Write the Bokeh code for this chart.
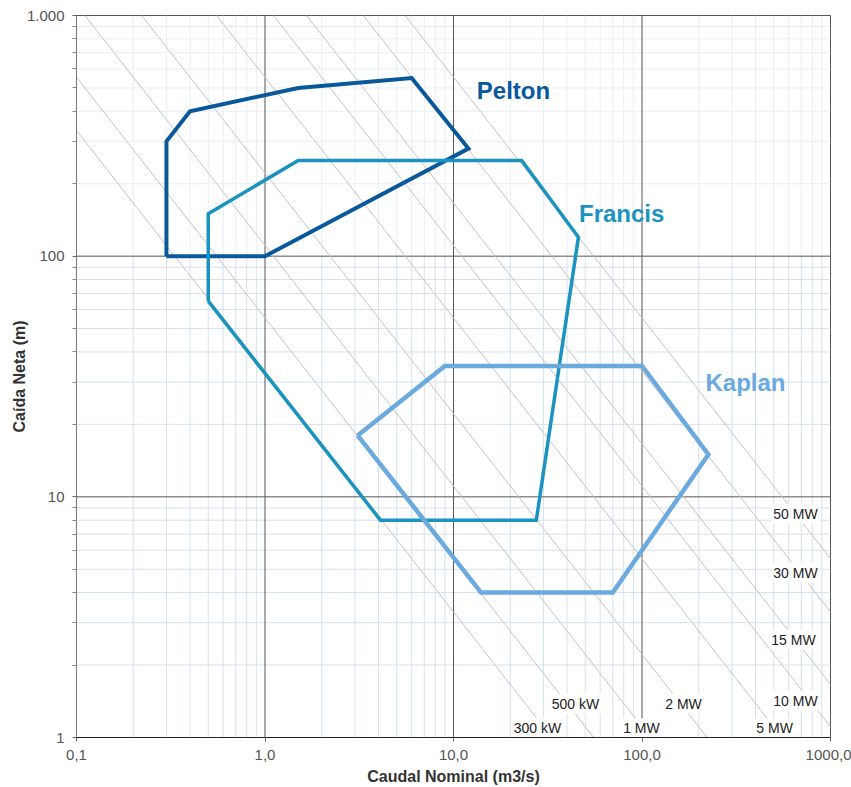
from bokeh.plotting import figure
from bokeh.models import FixedTicker, ColumnDataSource
from bokeh.core.properties import value
from bokeh.embed import file_html
from bokeh.resources import INLINE

# ---- data -------------------------------------------------------------
# Operating envelopes: nominal flow Q (m3/s) and net head H (m)
pelton_q = [0.3, 0.3, 0.4, 1.5, 6.0, 12.0, 1.0, 0.3]
pelton_h = [100, 300, 400, 500, 550, 280, 100, 100]

francis_q = [0.5, 0.5, 1.5, 23.0, 46.0, 27.5, 4.1, 0.5]
francis_h = [65, 150, 250, 250, 120, 8, 8, 65]

kaplan_q = [3.1, 9.0, 100.0, 225.0, 70.0, 14.0, 3.1]
kaplan_h = [18, 35, 35, 15, 4, 4, 18]

turbine_names = ["Pelton", "Francis", "Kaplan"]

# Iso-power lines (kW)
power_kw = [300, 500, 1000, 2000, 5000, 10000, 15000, 30000, 50000]
power_labels = ["300 kW", "500 kW", "1 MW", "2 MW", "5 MW",
                "10 MW", "15 MW", "30 MW", "50 MW"]

x_ticks = [0.1, 1, 10, 100, 1000]
x_tick_labels = ["0,1", "1,0", "10,0", "100,0", "1000,0"]
y_ticks = [1, 10, 100, 1000]
y_tick_labels = ["1", "10", "100", "1.000"]

# ---- layout / style ---------------------------------------------------
FONT = "Liberation Sans"
RHO_G_ETA = 9.81 * 0.92          # P[kW] = rho*g*eta * Q * H
Q_MIN, Q_MAX = 0.1, 1000
H_MIN, H_MAX = 1, 1000

TURBINE_COLORS = ["#08589b", "#1a93bf", "#6aaadf"]
TURBINE_WIDTHS = [4, 3.5, 4.5]
# where each turbine name sits (Q, H)
turbine_label_pos = [(20.8, 490), (78, 150), (354, 30)]
# where each power label sits (Q, H)
power_label_pos = [(27.9, 1.10), (44.4, 1.38), (99.3, 1.09), (166, 1.38),
                   (505, 1.09), (652, 1.42), (636, 2.55), (652, 4.84),
                   (652, 8.5)]

p = figure(width=851, height=787,
           x_axis_type="log", y_axis_type="log",
           x_range=(Q_MIN, Q_MAX), y_range=(H_MIN, H_MAX),
           output_backend="svg", toolbar_location=None,
           min_border_left=76, min_border_right=21,
           min_border_top=15, min_border_bottom=49,
           background_fill_color="white", border_fill_color="white")
p.outline_line_color = "#555555"
p.outline_line_width = 1
p.xgrid.grid_line_color = None
p.ygrid.grid_line_color = None

# ---- grid -------------------------------------------------------------
decades_q = [0.1, 1, 10, 100]
decades_h = [1, 10, 100]
minor_q = [m * d for d in decades_q for m in range(2, 10)]
minor_h = [m * d for d in decades_h for m in range(2, 10)]

# vertical minor lines: stronger below H=100, paler above
p.segment(x0=minor_q, y0=[H_MIN] * len(minor_q), x1=minor_q, y1=[100] * len(minor_q),
          line_color="#d5e1ef", line_width=1)
p.segment(x0=minor_q, y0=[100] * len(minor_q), x1=minor_q, y1=[H_MAX] * len(minor_q),
          line_color="#e8eef6", line_width=1)
# horizontal minor lines
low_h = [h for h in minor_h if h < 100]
high_h = [h for h in minor_h if h > 100]
p.segment(x0=[Q_MIN] * len(low_h), y0=low_h, x1=[Q_MAX] * len(low_h), y1=low_h,
          line_color="#d5e1ef", line_width=1)
p.segment(x0=[Q_MIN] * len(high_h), y0=high_h, x1=[Q_MAX] * len(high_h), y1=high_h,
          line_color="#e8eef6", line_width=1)

# major decade lines
major_q = [q for q in x_ticks if Q_MIN < q < Q_MAX]
major_h = [h for h in y_ticks if H_MIN < h < H_MAX]
p.segment(x0=major_q, y0=[H_MIN] * len(major_q), x1=major_q, y1=[H_MAX] * len(major_q),
          line_color="#555555", line_width=1)
p.segment(x0=[Q_MIN] * len(major_h), y0=major_h, x1=[Q_MAX] * len(major_h), y1=major_h,
          line_color="#555555", line_width=1)

# ---- iso-power lines ----------------------------------------------------
q_ends = [0.01, 1e4]
xs_pow = [q_ends for _ in power_kw]
ys_pow = [[pw / (RHO_G_ETA * q) for q in q_ends] for pw in power_kw]
p.multi_line(xs=xs_pow, ys=ys_pow, line_color="#c4c4c4", line_width=1)

# ---- turbine envelopes --------------------------------------------------
envelopes = [(pelton_q, pelton_h), (francis_q, francis_h), (kaplan_q, kaplan_h)]
for (qs, hs), col, lw in zip(envelopes, TURBINE_COLORS, TURBINE_WIDTHS):
    p.line(qs, hs, line_color=col, line_width=lw, line_join="miter")

# ---- labels -------------------------------------------------------------
pl_src = ColumnDataSource(dict(
    x=[pos[0] for pos in power_label_pos],
    y=[pos[1] for pos in power_label_pos],
    text=power_labels))
p.text(x="x", y="y", text="text", source=pl_src,
       text_font=value(FONT), text_font_size="14px", text_color="#222222",
       text_align="center", text_baseline="middle",
       background_fill_color="white", padding=2)

tl_src = ColumnDataSource(dict(
    x=[pos[0] for pos in turbine_label_pos],
    y=[pos[1] for pos in turbine_label_pos],
    text=turbine_names, color=TURBINE_COLORS))
p.text(x="x", y="y", text="text", text_color="color", source=tl_src,
       text_font=value(FONT), text_font_size="24px", text_font_style="bold",
       text_align="center", text_baseline="middle")

# ---- axes ---------------------------------------------------------------
p.xaxis.ticker = FixedTicker(ticks=x_ticks, minor_ticks=[])
p.yaxis.ticker = FixedTicker(ticks=y_ticks, minor_ticks=minor_h)
p.xaxis.major_label_overrides = {t: s for t, s in zip(x_ticks, x_tick_labels)}
p.yaxis.major_label_overrides = {t: s for t, s in zip(y_ticks, y_tick_labels)}

p.xaxis.axis_label = "Caudal Nominal (m3/s)"
p.yaxis.axis_label = "Caída Neta (m)"
for ax in (p.xaxis[0], p.yaxis[0]):
    ax.axis_label_text_font = FONT
    ax.axis_label_text_font_size = "16px"
    ax.axis_label_text_font_style = "bold"
    ax.axis_label_text_color = "#333333"
    ax.major_label_text_font = FONT
    ax.major_label_text_font_size = "15px"
    ax.major_label_text_color = "#555555"
    ax.major_tick_in = 0
    ax.major_tick_out = 4
    ax.minor_tick_in = 0
    ax.major_tick_line_color = "#666666"
    ax.minor_tick_line_color = "#888888"

p.xaxis.axis_line_color = "#222222"
p.yaxis.axis_line_color = "#777777"
p.xaxis.minor_tick_out = 0
p.yaxis.minor_tick_out = 4
p.xaxis.major_label_standoff = 8
p.xaxis.axis_label_standoff = 5
p.yaxis.major_label_standoff = 8
p.yaxis.axis_label_standoff = -4

open("out.html", "w").write(file_html(p, INLINE))
